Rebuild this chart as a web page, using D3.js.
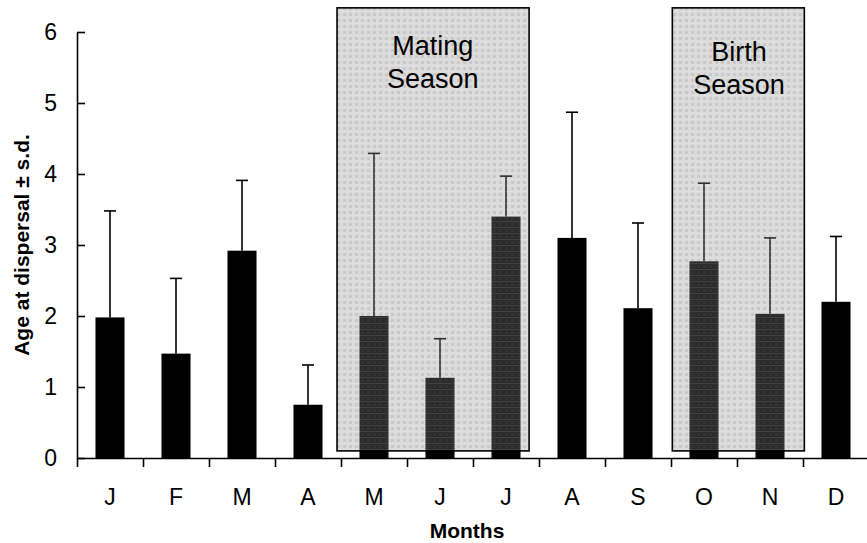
<!DOCTYPE html>
<html><head><meta charset="utf-8">
<script src="https://cdn.jsdelivr.net/npm/d3@7"></script>
<style>body{margin:0;background:#fff}svg{display:block}text{font-family:"Liberation Sans",Arial,sans-serif}</style>
</head><body><svg id="c" width="867" height="543"></svg>
<script>
const months = ["J","F","M","A","M","J","J","A","S","O","N","D"];
const means  = [1.98,1.47,2.92,0.75,2.00,1.13,3.40,3.10,2.11,2.77,2.03,2.20];
const sds    = [1.50,1.06,0.99,0.56,2.29,0.55,0.57,1.77,1.20,1.10,1.07,0.92];
const yTicks = [0,1,2,3,4,5,6];
const seasonNames = [["Mating","Season"],["Birth","Season"]];
const seasonStart = [3.94, 9.02];   // month-index units
const seasonEnd   = [6.85, 11.02];
const seasonLow = 0.1, seasonHigh = 6.34;
const seasonLabelAt = [5.39, 10.03];

const W=867,H=543, x0=77, x1=869, yb=458, yt=32;
const svg=d3.select("#c");
const defs=svg.append("defs");
const pat=defs.append("pattern").attr("id","dots").attr("patternUnits","userSpaceOnUse").attr("width",6).attr("height",6);
pat.append("rect").attr("width",6).attr("height",6).attr("fill","rgba(139,139,139,0.31)");
pat.append("rect").attr("x",1).attr("y",1).attr("width",3).attr("height",3).attr("fill","rgba(90,90,90,0.14)");
pat.append("rect").attr("x",0).attr("y",5).attr("width",6).attr("height",1).attr("fill","rgba(255,255,255,0.10)");

const xi=d3.scaleLinear().domain([0,12]).range([x0,x1]);
const xb=d3.scaleBand().domain(d3.range(12)).range([x0,x1]).paddingInner(0.56).paddingOuter(0.28);
const y=d3.scaleLinear().domain([0,6]).range([yb,yt]);

// bars
svg.append("g").selectAll("rect").data(means).join("rect")
  .attr("x",(d,i)=>xb(i)).attr("width",xb.bandwidth())
  .attr("y",d=>y(d)).attr("height",d=>y(0)-y(d)).attr("fill","#000");
// error bars
const eb=svg.append("g").attr("stroke","#000").attr("stroke-width",1.6);
means.forEach((m,i)=>{
  const cx=xb(i)+xb.bandwidth()/2;
  eb.append("line").attr("x1",cx).attr("x2",cx).attr("y1",y(m)).attr("y2",y(m+sds[i]));
  eb.append("line").attr("x1",cx-6).attr("x2",cx+6).attr("y1",y(m+sds[i])).attr("y2",y(m+sds[i]));
});
// season boxes
seasonStart.forEach((s,k)=>{
  svg.append("rect").attr("x",xi(s)).attr("width",xi(seasonEnd[k])-xi(s))
    .attr("y",y(seasonHigh)).attr("height",y(seasonLow)-y(seasonHigh))
    .attr("fill","url(#dots)").attr("stroke","#000").attr("stroke-width",1.6);
  const t=svg.append("text").attr("text-anchor","middle").attr("font-size",27).attr("fill","#000");
  seasonNames[k].forEach((w,j)=>{
    t.append("tspan").attr("x",xi(seasonLabelAt[k])).attr("y",(k===0?55:61)+j*33).text(w);
  });
});

// y axis
const ya=svg.append("g").attr("transform",`translate(${x0},0)`)
  .call(d3.axisLeft(y).tickValues(yTicks).tickSizeInner(-8).tickSizeOuter(0).tickPadding(20).tickFormat(d3.format("d")));
ya.selectAll("text").attr("font-size",23).attr("fill","#000").attr("font-family","Liberation Sans, Arial, sans-serif");
ya.selectAll("path,line").attr("stroke","#000").attr("stroke-width",1.6);
// x axis
const xa=svg.append("g").attr("transform",`translate(0,${yb})`)
  .call(d3.axisBottom(xi).tickValues(d3.range(13)).tickSize(9).tickSizeOuter(0).tickFormat(""));
xa.selectAll("path,line").attr("stroke","#000").attr("stroke-width",1.6);
svg.append("g").selectAll("text").data(months).join("text")
  .attr("x",(d,i)=>xb(i)+xb.bandwidth()/2).attr("y",505).attr("text-anchor","middle")
  .attr("font-size",23).text(d=>d);

// titles
svg.append("text").attr("x",467).attr("y",538).attr("text-anchor","middle")
  .attr("font-size",21).attr("font-weight","bold").text("Months");
svg.append("text").attr("transform","translate(29,245) rotate(-90)").attr("text-anchor","middle")
  .attr("font-size",21).attr("font-weight","bold").text("Age at dispersal ± s.d.");
</script></body></html>
